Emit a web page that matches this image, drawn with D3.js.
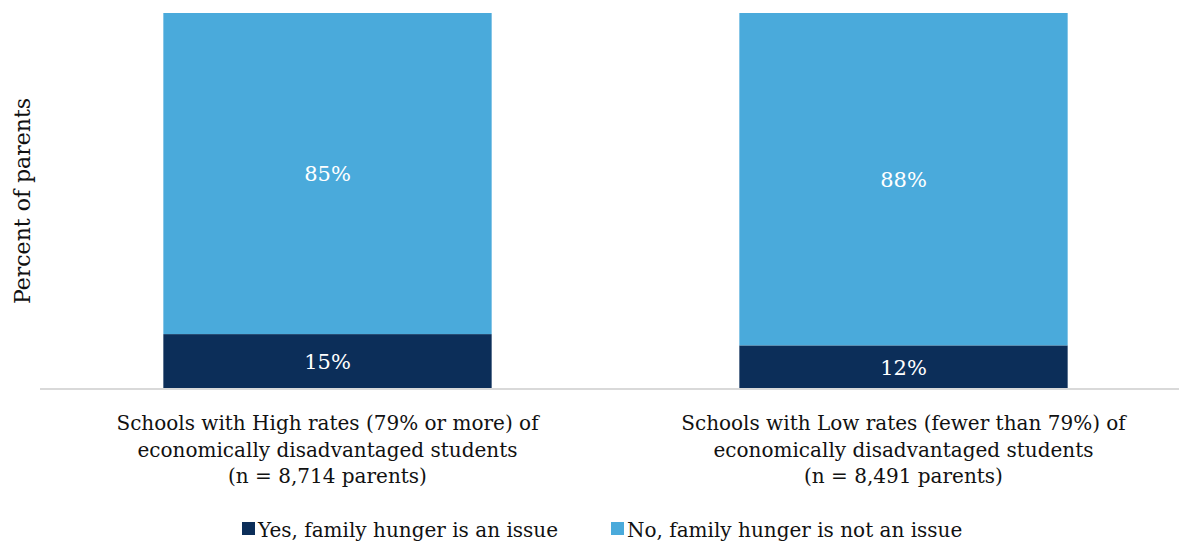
<!DOCTYPE html>
<html>
<head>
<meta charset="utf-8">
<script src="https://cdn.jsdelivr.net/npm/d3@7"></script>
<style>
  html, body { margin: 0; padding: 0; background: #fff; overflow: hidden; }
  svg { display: block; }
  text { font-family: "DejaVu Serif", "Liberation Serif", serif; }
</style>
</head>
<body>
<svg id="chart" width="1179" height="541"></svg>
<script>
// Data
const categories = [
  ["Schools with High rates (79% or more) of", "economically disadvantaged students", "(n = 8,714 parents)"],
  ["Schools with Low rates (fewer than 79%) of", "economically disadvantaged students", "(n = 8,491 parents)"]
];
const categoryKeys = ["High", "Low"];
const seriesNames = ["Yes, family hunger is an issue", "No, family hunger is not an issue"];
const yesValues = [14.6, 11.6];
const noValues = [85.4, 88.4];
const colors = ["#0C2E59", "#4AAADB"];

const svg = d3.select("#chart");

const x = d3.scaleBand()
  .domain(categoryKeys)
  .range([39.5, 1191.5])
  .paddingInner(0.43)
  .paddingOuter(0.215);

const y = d3.scaleLinear().domain([0, 100]).range([389, 13]);

const rows = categoryKeys.map((k, i) => ({ key: k, yes: yesValues[i], no: noValues[i] }));
const stack = d3.stack().keys(["yes", "no"]);
const series = stack(rows);

const g = svg.append("g");

series.forEach((s, si) => {
  g.selectAll(null)
    .data(s)
    .join("rect")
    .attr("x", d => x(d.data.key))
    .attr("width", x.bandwidth())
    .attr("y", d => y(d[1]))
    .attr("height", d => y(d[0]) - y(d[1]))
    .attr("fill", colors[si]);

  g.selectAll(null)
    .data(s)
    .join("text")
    .attr("x", d => x(d.data.key) + x.bandwidth() / 2)
    .attr("y", d => (y(d[0]) + y(d[1])) / 2 + 2)
    .attr("text-anchor", "middle")
    .attr("dominant-baseline", "middle")
    .attr("fill", "#ffffff")
    .attr("font-size", 21)
    .text(d => Math.round(d[1] - d[0]) + "%");
});

// Baseline axis
const xAxis = d3.axisBottom(x).tickSize(0).tickFormat("");
const axisG = svg.append("g").attr("transform", `translate(0,${y(0)})`).call(xAxis);
axisG.select(".domain").attr("stroke", "#D9D9D9").attr("stroke-width", 2)
  .attr("d", `M40,0H1179`);

// Category labels
categoryKeys.forEach((k, i) => {
  const t = svg.append("text")
    .attr("text-anchor", "middle")
    .attr("font-size", 20)
    .attr("fill", "#111111");
  categories[i].forEach((line, li) => {
    t.append("tspan")
      .attr("x", x(k) + x.bandwidth() / 2)
      .attr("y", 430 + li * 26.5)
      .text(line);
  });
});

// Y axis title
svg.append("text")
  .attr("transform", `translate(30,${(y(0) + y(100)) / 2}) rotate(-90)`)
  .attr("text-anchor", "middle")
  .attr("font-size", 22)
  .attr("fill", "#111111")
  .text("Percent of parents");

// Legend
const legendX = [242, 611];
seriesNames.forEach((name, i) => {
  svg.append("rect")
    .attr("x", legendX[i])
    .attr("y", 522)
    .attr("width", 13)
    .attr("height", 13)
    .attr("fill", colors[i]);
  svg.append("text")
    .attr("x", legendX[i] + 16)
    .attr("y", 537)
    .attr("font-size", 20)
    .attr("fill", "#111111")
    .text(name);
});
</script>
</body>
</html>
